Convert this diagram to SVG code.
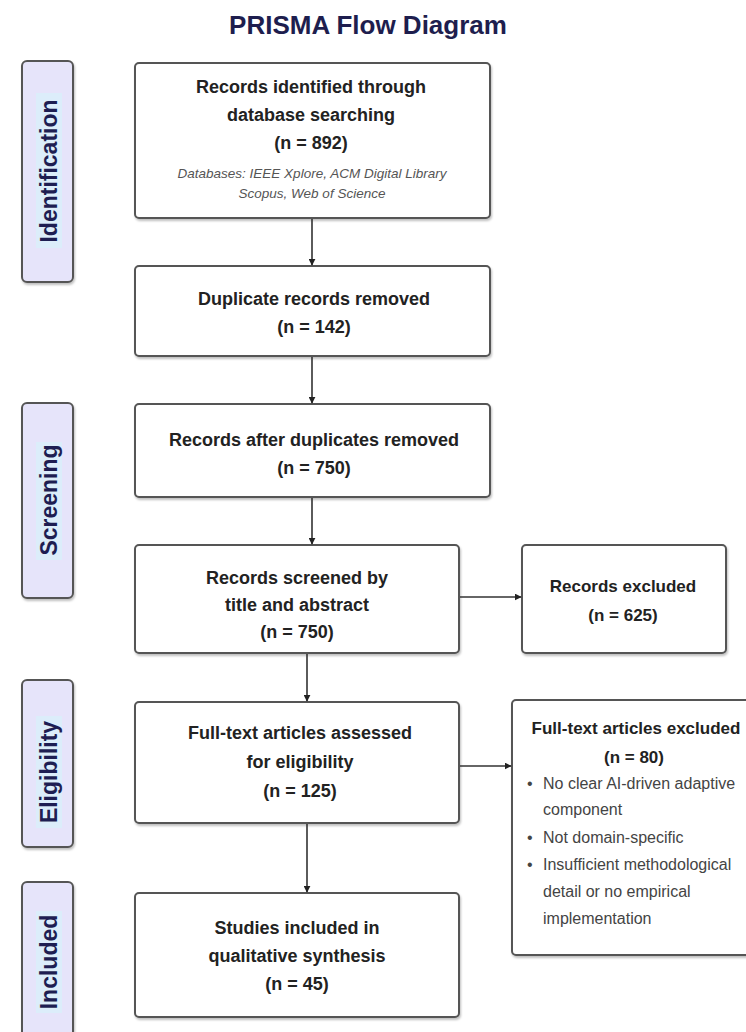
<svg xmlns="http://www.w3.org/2000/svg" width="746" height="1032" viewBox="0 0 746 1032">
  <defs>
    <marker id="arr" viewBox="0 0 10 10" refX="9" refY="5" markerWidth="7" markerHeight="7" orient="auto" markerUnits="userSpaceOnUse">
      <path d="M0,0 L10,5 L0,10 z" fill="#222"/>
    </marker>
    <filter id="sh" x="-5%" y="-5%" width="112%" height="115%">
      <feDropShadow dx="1" dy="2" stdDeviation="1.2" flood-color="#000" flood-opacity="0.25"/>
    </filter>
  </defs>
  <style>
    .box { fill: #ffffff; stroke: #555555; stroke-width: 2; filter: url(#sh); }
    .side { fill: #e6e4fa; stroke: #555555; stroke-width: 2; filter: url(#sh); }
    .hl { fill: #dcedfa; }
    .t { font-family: "Liberation Sans", Arial, sans-serif; font-weight: bold; font-size: 18px; fill: #222222; text-anchor: middle; }
    .ts { font-family: "Liberation Sans", Arial, sans-serif; font-weight: bold; font-size: 17px; fill: #222222; text-anchor: middle; }
    .it { font-family: "Liberation Sans", Arial, sans-serif; font-style: italic; font-size: 13.5px; fill: #555555; text-anchor: middle; }
    .b { font-family: "Liberation Sans", Arial, sans-serif; font-size: 16px; fill: #444444; }
    .lab { font-family: "Liberation Sans", Arial, sans-serif; font-weight: bold; font-size: 23px; fill: #1e1e52; text-anchor: middle; dominant-baseline: central; }
    .title { font-family: "Liberation Sans", Arial, sans-serif; font-weight: bold; font-size: 26px; fill: #1e1e4e; text-anchor: middle; }
    .c { stroke: #333333; stroke-width: 1.6; fill: none; marker-end: url(#arr); }
  </style>
  <rect width="746" height="1032" fill="#ffffff"/>

  <text class="title" x="368" y="34">PRISMA Flow Diagram</text>

  <g id="phase-identification">
    <rect class="side" x="22" y="61" width="51" height="221" rx="5"/>
    <rect class="hl" x="36" y="93" width="26" height="155"/>
    <text class="lab" transform="translate(49,171) rotate(-90)">Identification</text>
  </g>
  <g id="phase-screening">
    <rect class="side" x="22" y="403" width="51" height="195" rx="5"/>
    <rect class="hl" x="36" y="442" width="26" height="118"/>
    <text class="lab" transform="translate(49,500) rotate(-90)">Screening</text>
  </g>
  <g id="phase-eligibility">
    <rect class="side" x="22" y="680" width="51" height="167" rx="5"/>
    <rect class="hl" x="36" y="716" width="26" height="112"/>
    <text class="lab" transform="translate(49,772) rotate(-90)">Eligibility</text>
  </g>
  <g id="phase-included">
    <rect class="side" x="22" y="882" width="51" height="162" rx="5"/>
    <rect class="hl" x="36" y="911" width="26" height="102"/>
    <text class="lab" transform="translate(49,962) rotate(-90)">Included</text>
  </g>

  <g id="identified">
    <rect class="box" x="135" y="63" width="355" height="155" rx="4"/>
    <text class="t" x="311" y="93">Records identified through</text>
    <text class="t" x="311" y="121">database searching</text>
    <text class="t" x="311" y="149">(n = 892)</text>
    <text class="it" x="312" y="178">Databases: IEEE Xplore, ACM Digital Library</text>
    <text class="it" x="312" y="198">Scopus, Web of Science</text>
  </g>

  <g id="duplicates">
    <rect class="box" x="135" y="266" width="355" height="90" rx="4"/>
    <text class="t" x="314" y="305">Duplicate records removed</text>
    <text class="t" x="314" y="333">(n = 142)</text>
  </g>

  <g id="after-duplicates">
    <rect class="box" x="135" y="404" width="355" height="93" rx="4"/>
    <text class="t" x="314" y="446">Records after duplicates removed</text>
    <text class="t" x="314" y="474">(n = 750)</text>
  </g>

  <g id="screened">
    <rect class="box" x="135" y="545" width="324" height="108" rx="4"/>
    <text class="t" x="297" y="584">Records screened by</text>
    <text class="t" x="297" y="611">title and abstract</text>
    <text class="t" x="297" y="638">(n = 750)</text>
  </g>

  <g id="records-excluded">
    <rect class="box" x="522" y="545" width="204" height="108" rx="4"/>
    <text class="ts" x="623" y="592">Records excluded</text>
    <text class="ts" x="623" y="621">(n = 625)</text>
  </g>

  <g id="full-text">
    <rect class="box" x="135" y="702" width="324" height="121" rx="4"/>
    <text class="t" x="300" y="739">Full-text articles assessed</text>
    <text class="t" x="300" y="768">for eligibility</text>
    <text class="t" x="300" y="797">(n = 125)</text>
  </g>

  <g id="full-text-excluded">
    <rect class="box" x="512" y="700" width="250" height="255" rx="4"/>
    <text class="ts" x="636" y="734">Full-text articles excluded</text>
    <text class="ts" x="634" y="763">(n = 80)</text>
    <text class="b" x="527" y="789">•</text>
    <text class="b" x="543" y="789">No clear AI-driven adaptive</text>
    <text class="b" x="543" y="815">component</text>
    <text class="b" x="527" y="843">•</text>
    <text class="b" x="543" y="843">Not domain-specific</text>
    <text class="b" x="527" y="870">•</text>
    <text class="b" x="543" y="870">Insufficient methodological</text>
    <text class="b" x="543" y="897">detail or no empirical</text>
    <text class="b" x="543" y="924">implementation</text>
  </g>

  <g id="included">
    <rect class="box" x="135" y="893" width="324" height="124" rx="4"/>
    <text class="t" x="297" y="934">Studies included in</text>
    <text class="t" x="297" y="962">qualitative synthesis</text>
    <text class="t" x="297" y="990">(n = 45)</text>
  </g>

  <g id="connectors">
    <line class="c" x1="312" y1="219" x2="312" y2="265"/>
    <line class="c" x1="312" y1="357" x2="312" y2="403"/>
    <line class="c" x1="312" y1="498" x2="312" y2="544"/>
    <line class="c" x1="460" y1="597" x2="521" y2="597"/>
    <line class="c" x1="307" y1="654" x2="307" y2="701"/>
    <line class="c" x1="460" y1="766" x2="511" y2="766"/>
    <line class="c" x1="307" y1="824" x2="307" y2="892"/>
  </g>
</svg>
